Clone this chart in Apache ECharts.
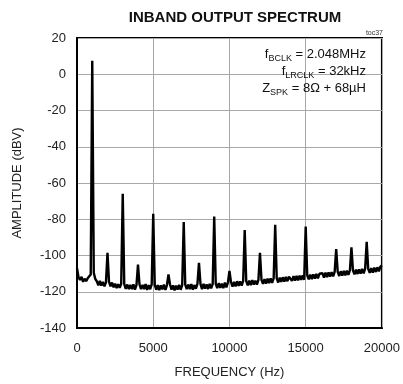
<!DOCTYPE html>
<html>
<head>
<meta charset="utf-8">
<script src="https://cdn.jsdelivr.net/npm/echarts@6/dist/echarts.min.js"></script>
<style>html,body{margin:0;padding:0;background:#fff}#c{width:403px;height:384px}</style>
</head>
<body>
<div id="c"></div>
<script>
var titleText = 'INBAND OUTPUT SPECTRUM';
var xAxisName = 'FREQUENCY (Hz)';
var yAxisName = 'AMPLITUDE (dBV)';
var xTicks = [0, 5000, 10000, 15000, 20000];
var yTicks = [-140, -120, -100, -80, -60, -40, -20, 0, 20];

var freqHz = [
  0,100,200,300,400,500,600,700,800,900,
  1000,1100,1200,1300,1400,1500,1600,1700,1800,1900,
  2000,2100,2200,2300,2400,2500,2600,2700,2800,2900,
  3000,3100,3200,3300,3400,3500,3600,3700,3800,3900,
  4000,4100,4200,4300,4400,4500,4600,4700,4800,4900,
  5000,5100,5200,5300,5400,5500,5600,5700,5800,5900,
  6000,6100,6200,6300,6400,6500,6600,6700,6800,6900,
  7000,7100,7200,7300,7400,7500,7600,7700,7800,7900,
  8000,8100,8200,8300,8400,8500,8600,8700,8800,8900,
  9000,9100,9200,9300,9400,9500,9600,9700,9800,9900,
  10000,10100,10200,10300,10400,10500,10600,10700,10800,10900,
  11000,11100,11200,11300,11400,11500,11600,11700,11800,11900,
  12000,12100,12200,12300,12400,12500,12600,12700,12800,12900,
  13000,13100,13200,13300,13400,13500,13600,13700,13800,13900,
  14000,14100,14200,14300,14400,14500,14600,14700,14800,14900,
  15000,15100,15200,15300,15400,15500,15600,15700,15800,15900,
  16000,16100,16200,16300,16400,16500,16600,16700,16800,16900,
  17000,17100,17200,17300,17400,17500,17600,17700,17800,17900,
  18000,18100,18200,18300,18400,18500,18600,18700,18800,18900,
  19000,19100,19200,19300,19400,19500,19600,19700,19800,19900,
  20000
];
var amplitudeDbv = [
  -107,-112,-113.5,-111.8,-114.5,-112.8,-114.2,-112.6,-113.5,-110.5,
  7.5,-109.5,-113,-114.2,-116.5,-114,-116.6,-114.6,-117,-114.8,
  -98.5,-114.5,-117,-114.9,-117.6,-115.5,-118,-115.8,-117.8,-115.6,
  -66,-115.8,-118.4,-116,-118.6,-116.2,-118.5,-115.9,-118.8,-116.4,
  -105,-116,-118.6,-116.2,-118.5,-115.8,-119,-116.4,-118.6,-115.9,
  -77,-116.2,-118.9,-116.4,-119.1,-116.5,-118.7,-116.1,-119,-116.3,
  -110.5,-116,-118.8,-116.5,-119.2,-116.6,-118.8,-116.2,-118.9,-116.4,
  -81.5,-116.1,-118.6,-116,-118.5,-115.8,-118.8,-116.3,-118.3,-115.7,
  -104,-115.8,-118.5,-115.7,-118.3,-115.9,-118.5,-115.6,-118.1,-115.8,
  -78.5,-115.6,-118,-115.3,-117.9,-115.5,-118,-115,-117.6,-114.9,
  -108.5,-114.7,-117.2,-114.5,-117.1,-114.2,-116.8,-114.3,-116.6,-114,
  -86,-114.1,-116.5,-113.8,-116.3,-113.6,-116,-113.9,-116.1,-113.5,
  -98.5,-113.4,-115.7,-113,-115.5,-112.8,-115.3,-112.6,-115.1,-112.5,
  -83,-112.6,-114.9,-112.2,-114.6,-112,-114.4,-111.8,-114.2,-111.7,
  -111.5,-114,-111.4,-113.9,-111.3,-113.7,-111.1,-113.5,-111,-113.4,
  -84,-110.9,-113.2,-110.6,-113,-110.4,-112.8,-110.2,-112.6,-110.1,
  -110.8,-109.8,-112.2,-109.5,-111.9,-109.3,-111.7,-109.2,-111.5,-109,
  -96.5,-109,-111.3,-108.7,-111.1,-108.5,-110.9,-108.3,-110.7,-108.2,
  -95.5,-108.2,-110.4,-107.8,-110.2,-107.6,-110,-107.4,-109.8,-107.3,
  -92.5,-107.4,-109.6,-107,-109.4,-106.7,-109.1,-106.5,-108.8,-106.2,
  -105.5
];

var seriesData = freqHz.map(function (f, i) { return [f, amplitudeDbv[i]]; });
var FONT = '"Liberation Sans", Arial, sans-serif';

var chart = echarts.init(document.getElementById('c'), null, {renderer: 'canvas'});
chart.setOption({
  animation: false,
  backgroundColor: '#fff',
  grid: {left: 77, right: 21, top: 38, bottom: 53, show: true, borderColor: '#000', borderWidth: 2, containLabel: false},
  xAxis: {
    type: 'value', min: xTicks[0], max: xTicks[xTicks.length - 1], interval: 5000,
    name: xAxisName, nameLocation: 'middle', nameGap: 38,
    nameTextStyle: {fontFamily: FONT, fontSize: 13, color: '#222'},
    axisLine: {show: true, onZero: false, lineStyle: {color: '#000', width: 2}},
    axisTick: {show: false},
    axisLabel: {margin: 14, fontFamily: FONT, fontSize: 13, color: '#222',
      formatter: function (v) { return String(v); }},
    splitLine: {show: true, lineStyle: {color: '#a8a8a8', width: 1}}
  },
  yAxis: {
    type: 'value', min: yTicks[0], max: yTicks[yTicks.length - 1], interval: 20,
    name: yAxisName, nameLocation: 'middle', nameGap: 53,
    nameTextStyle: {fontFamily: FONT, fontSize: 13, color: '#222'},
    axisLine: {show: true, onZero: false, lineStyle: {color: '#000', width: 2}},
    axisTick: {show: false},
    axisLabel: {margin: 11, fontFamily: FONT, fontSize: 13, color: '#222',
      formatter: function (v) { return String(v); }},
    splitLine: {show: true, lineStyle: {color: '#a8a8a8', width: 1}}
  },
  series: [{
    type: 'line', data: seriesData, showSymbol: false, symbol: 'none',
    lineStyle: {color: '#000', width: 2.4}, z: 5
  }],
  graphic: [
    {type: 'text', x: 235, y: 18, z: 10,
     style: {text: titleText, align: 'center', verticalAlign: 'middle',
       fontFamily: FONT, fontSize: 15, fontWeight: 'bold', fill: '#111'}},
    {type: 'text', x: 383, y: 33, z: 10,
     style: {text: 'toc37', align: 'right', verticalAlign: 'middle', fontFamily: FONT, fontSize: 7, fill: '#333'}},
    {type: 'text', x: 366, y: 46, z: 10,
     style: {
       text: '{n|f}{s|BCLK}{n| = 2.048MHz}\n{n|f}{s|LRCLK}{n| = 32kHz}\n{n|Z}{s|SPK}{n| = 8Ω + 68µH}',
       align: 'right', verticalAlign: 'top', fill: '#111', fontFamily: FONT,
       rich: {
         n: {fontSize: 13, fontFamily: FONT, lineHeight: 17, fill: '#111'},
         s: {fontSize: 9, fontFamily: FONT, lineHeight: 17, verticalAlign: 'bottom', padding: [5, 0, 0, 0], fill: '#111'}
       }
     }}
  ]
});
</script>
</body>
</html>
